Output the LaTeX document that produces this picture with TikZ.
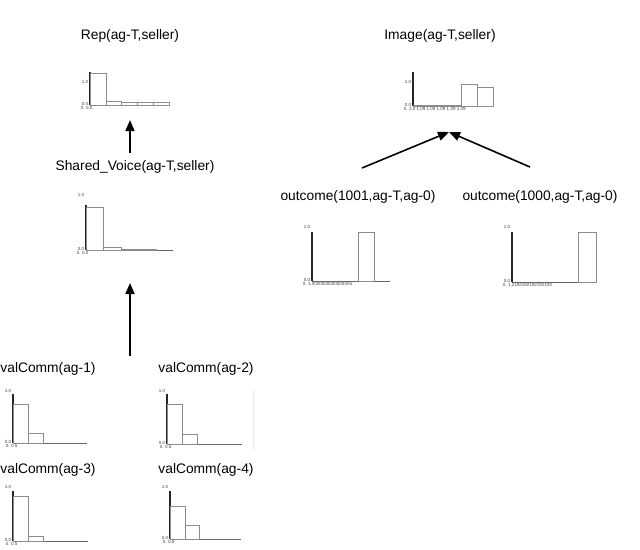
\documentclass[tikz,border=0pt]{standalone}
\usepackage{fontspec}
\setmainfont{Liberation Sans}
\usetikzlibrary{arrows.meta,positioning}

\begin{document}
\begin{tikzpicture}[
  x=1pt,y=-1pt,
  >={Triangle[length=11pt,width=9pt]},
  title/.style={font=\fontsize{13.8}{16}\selectfont,inner sep=0pt},
  tick/.style={font=\fontsize{4.5}{5}\selectfont,inner sep=0.6pt,text=black!75},
  axis/.style={draw=black!85,line width=1.1pt},
  base/.style={draw=black!60,line width=0.9pt},
  bar/.style={draw=black!45,line width=0.7pt},
  link/.style={->,line width=1.6pt}
]
  \useasboundingbox (0,0) rectangle (640,549);

  % titles
  \node[title] (rep) at (130,36) {Rep(ag-T,seller)};
  \node[title] (shared) at (135,167) {Shared\_Voice(ag-T,seller)};
  \node[title] (image) at (440,36) {Image(ag-T,seller)};
  \node[title] (out1001) at (358,197) {outcome(1001,ag-T,ag-0)};
  \node[title] (out1000) at (540,197) {outcome(1000,ag-T,ag-0)};
  \node[title] (vc1) at (48,369) {valComm(ag-1)};
  \node[title] (vc2) at (206,369) {valComm(ag-2)};
  \node[title] (vc3) at (48,470) {valComm(ag-3)};
  \node[title] (vc4) at (206,470) {valComm(ag-4)};

  % Rep chart
  \draw[axis] (90,72) -- (90,105);
  \draw[base] (90,105) -- (170,105);
  \foreach \a/\b/\t in {90/106/73,106/121/101,121/137/102.5,137/153/102.5,153/169/102.5}
    \draw[bar] (\a,105) rectangle (\b,\t);
  \node[tick,left] (rep1) at (89,82) {1.0};
  \node[tick,left] (rep0) at (89,104) {0.0};
  \node[tick,below right] (repx) at (80,105.5) {0. 0.0};

  % Image chart
  \draw[axis] (413,72) -- (413,106);
  \draw[base] (413,106) -- (493,106);
  \foreach \a/\b/\t in {413/429/105,429/445/105,445/461/105,461/477/84,477/493/87}
    \draw[bar] (\a,106) rectangle (\b,\t);
  \node[tick,left] (img1) at (412,82) {1.0};
  \node[tick,left] (img0) at (412,105) {0.0};
  \node[tick,below right] (imgx) at (403,106.5) {0. 2.0 1.09 1.09 1.09 1.09 1.09};

  % Shared_Voice chart
  \draw[axis] (86,205) -- (86,250);
  \draw[base] (86,250) -- (173,250);
  \foreach \a/\b/\t in {86/103/207,103/121/247.5,121/138/249.5,138/156/249.5}
    \draw[bar] (\a,250) rectangle (\b,\t);
  \node[tick,left] (sv1) at (85,195) {1.0};
  \node[tick,left] (sv0) at (85,249) {0.0};
  \node[tick,below right] (svx) at (76,250.5) {0. 0.0};

  % outcome(1001) chart
  \draw[axis] (312,232) -- (312,281);
  \draw[base] (312,281) -- (390,281);
  \draw[bar] (358,281) rectangle (374,232);
  \node[tick,left] (o1a) at (311,227) {1.0};
  \node[tick,left] (o1b) at (311,280) {0.0};
  \node[tick,below right] (o1x) at (302,281.5) {0. 1.0000000000000005};

  % outcome(1000) chart
  \draw[axis] (512,232) -- (512,282);
  \draw[base] (512,282) -- (596,282);
  \draw[bar] (578,282) rectangle (596,232);
  \node[tick,left] (o0a) at (511,227) {1.0};
  \node[tick,left] (o0b) at (511,281) {0.0};
  \node[tick,below right] (o0x) at (502,282.5) {0. 1.2192192192192192};

  % valComm(ag-1) chart
  \draw[axis] (13,394) -- (13,443);
  \draw[base] (13,443) -- (87,443);
  \draw[bar] (13,443) rectangle (28,404);
  \draw[bar] (28,443) rectangle (43,433);
  \node[tick,left] (v1a) at (12,391) {1.0};
  \node[tick,left] (v1b) at (12,442) {0.0};
  \node[tick,below right] (v1x) at (5,443.5) {0. 0.5};

  % valComm(ag-2) chart
  \draw[axis] (167,394) -- (167,444);
  \draw[base] (167,444) -- (242,444);
  \draw[bar] (167,444) rectangle (182,404);
  \draw[bar] (182,444) rectangle (197,434);
  \draw[black!8,line width=0.6pt] (253,390) -- (253,450);
  \node[tick,left] (v2a) at (166,391) {1.0};
  \node[tick,left] (v2b) at (166,443) {0.0};
  \node[tick,below right] (v2x) at (159,444.5) {0. 0.5};

  % valComm(ag-3) chart
  \draw[axis] (13,491) -- (13,541);
  \draw[base] (13,541) -- (88,541);
  \draw[bar] (13,541) rectangle (28,496);
  \draw[bar] (28,541) rectangle (43,536);
  \node[tick,left] (v3a) at (12,487) {1.0};
  \node[tick,left] (v3b) at (12,540) {0.0};
  \node[tick,below right] (v3x) at (5,541.5) {0. 0.5};

  % valComm(ag-4) chart
  \draw[axis] (170,491) -- (170,539);
  \draw[base] (170,539) -- (241,539);
  \draw[bar] (170,539) rectangle (185,506);
  \draw[bar] (185,539) rectangle (199,525);
  \node[tick,left] (v4a) at (169,487) {1.0};
  \node[tick,left] (v4b) at (169,538) {0.0};
  \node[tick,below right] (v4x) at (162,539.5) {0. 0.5};

  % connectors
  \coordinate (repin) at (130,120);
  \coordinate (svout) at (130,153);
  \coordinate (svin) at (130,283);
  \coordinate (valout) at (130,356);
  \coordinate (imgin) at (449,132);
  \coordinate (o1out) at (362,168);
  \coordinate (o0out) at (530,167);
  \draw[link] (svout) -- (repin);
  \draw[link] (valout) -- (svin);
  \draw[link] (o1out) -- (imgin);
  \draw[link] (o0out) -- (imgin);
\end{tikzpicture}
\end{document}
